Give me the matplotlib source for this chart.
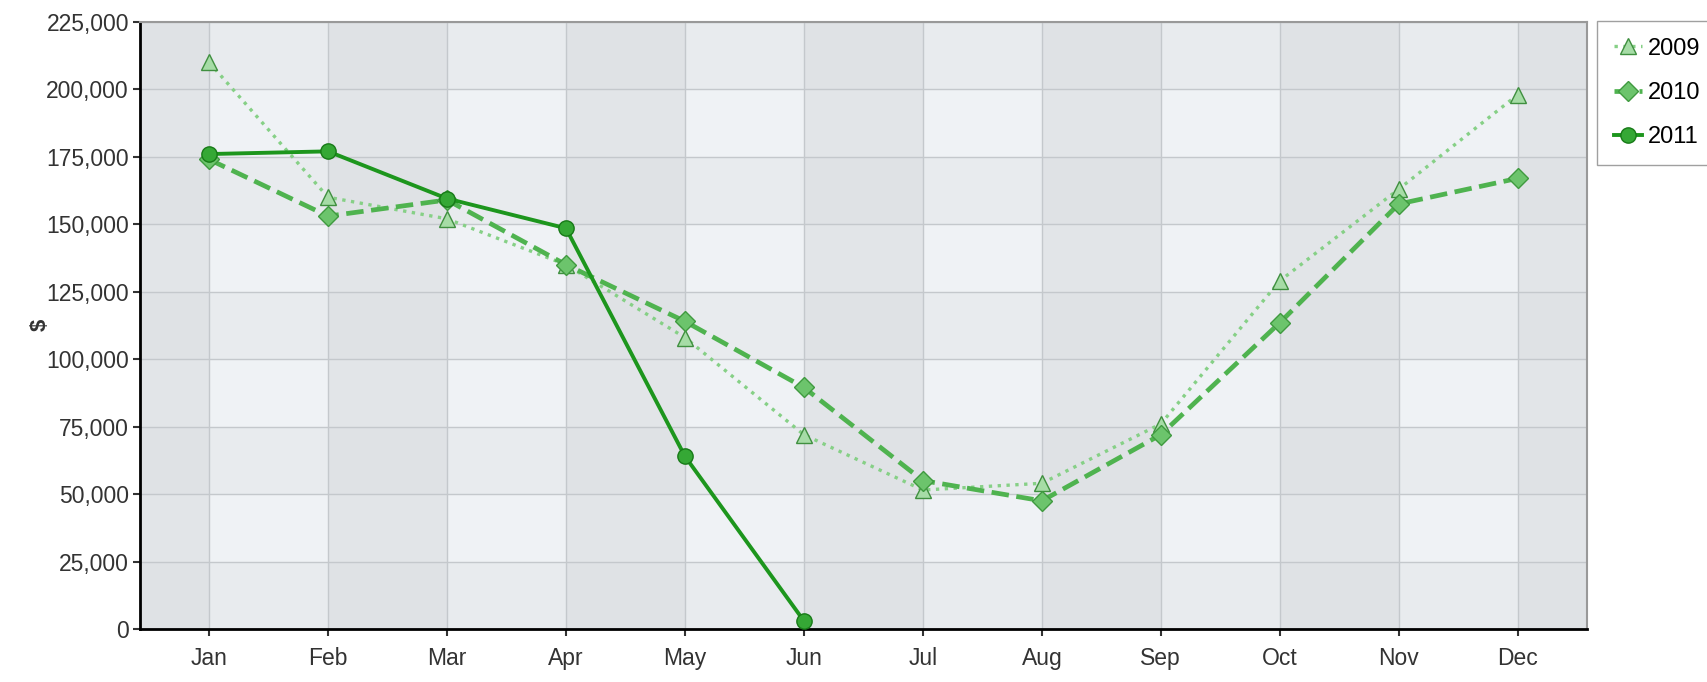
import matplotlib.pyplot as plt
import numpy as np

months = ['Jan', 'Feb', 'Mar', 'Apr', 'May', 'Jun', 'Jul', 'Aug', 'Sep', 'Oct', 'Nov', 'Dec']
sales_2009 = [210000, 160000, 152000, 135000, 108000, 72000, 51500, 54000, 76000, 129000, 163000, 198000]
sales_2010 = [174000, 153000, 159000, 135000, 114000, 89500, 55000, 47500, 72000, 113500, 157500, 167000]
sales_2011 = [176000, 177000, 159500, 148500, 64000, 3000]
y_ticks = np.arange(0, 225001, 25000)

plt.rcParams['font.family'] = ['Liberation Sans', 'DejaVu Sans']

fig = plt.figure(figsize=(17.08, 6.82), dpi=100)
ax = fig.add_axes([0.082, 0.0777, 0.847, 0.8903])
ax.set_facecolor('#eff2f5')

x = np.arange(len(months))
# column bands
ax.axvspan(-0.58, 0, color='#d9dcdf', alpha=0.55, lw=0, zorder=0)
for i in range(1, 12, 2):
    ax.axvspan(i, min(i + 1, 11.58), color='#d9dcdf', alpha=0.55, lw=0, zorder=0)
# row bands
for j in range(0, 9, 2):
    ax.axhspan(y_ticks[j], y_ticks[j] + 25000, color='#d9dcdf', alpha=0.3, lw=0, zorder=0)

ax.grid(True, color='#c4c8cc', lw=1, zorder=1)
ax.set_axisbelow(True)

ax.plot(x, sales_2009, ls=':', lw=2.4, color='#86d086', marker='^', ms=11,
        mfc='#a6dca6', mec='#3f8f3f', mew=1, label='2009', zorder=3)
ax.plot(x, sales_2010, ls='--', lw=3.4, color='#4fb34f', marker='D', ms=10,
        mfc='#6cc46c', mec='#3f9a3f', mew=1, label='2010', zorder=4)
ax.plot(x[:len(sales_2011)], sales_2011, ls='-', lw=2.8, color='#1d961d', marker='o', ms=11,
        mfc='#35a835', mec='#177a17', mew=1, label='2011', zorder=5)

ax.set_xlim(-0.58, 11.58)
ax.set_ylim(0, 225000)
ax.set_xticks(x)
ax.set_xticklabels(months)
ax.set_yticks(y_ticks)
ax.set_yticklabels([f'{v:,}' for v in y_ticks])
ax.tick_params(axis='both', labelsize=16.5, colors='#333333', length=5, width=1.5, direction='out')
ax.tick_params(axis='x', pad=8)
ax.tick_params(axis='y', pad=3)

for side in ['left', 'bottom']:
    ax.spines[side].set_color('black')
    ax.spines[side].set_linewidth(2)
for side in ['top', 'right']:
    ax.spines[side].set_color('#999999')
    ax.spines[side].set_linewidth(1.5)

fig.text(40 / 1708, 1 - 325 / 682, '$', fontsize=16, fontweight='bold', color='#333333',
         rotation=90, ha='center', va='center')

fig.legend(loc='upper left', bbox_to_anchor=(1597 / 1708, 1 - 21 / 682), fontsize=17,
           frameon=True, fancybox=False, edgecolor='#888888', handlelength=1.2,
           handletextpad=0.25, labelspacing=0.95, borderpad=0.7, borderaxespad=0)

fig.savefig('out.png', dpi=100)
